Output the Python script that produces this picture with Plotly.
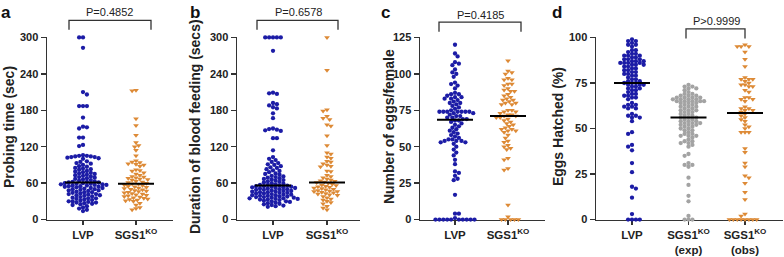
import numpy as np
import plotly.graph_objects as go

W, H = 784, 257

# ---------------- data ----------------
a_lvp = [300, 300, 283, 210, 206, 187, 187, 187, 168, 153, 152, 150, 135, 135, 123, 121,
         106, 105, 105, 104, 104, 103, 103, 102, 101, 100,
         96, 95, 93, 92, 90, 88, 87, 85, 84, 83, 82, 80, 79, 78, 77, 76, 75, 74, 73, 72, 71, 70,
         69, 68, 67, 66, 65, 64, 63, 62, 62, 61, 61, 60, 60,
         59, 59, 58, 58, 57, 57, 56, 56, 55, 55, 54, 54, 53, 52, 52, 51, 50, 50, 49, 48, 48, 47,
         46, 45, 45, 44, 43, 42, 42, 41, 40, 40, 39, 38, 37, 36, 35, 35, 34, 33, 32, 31, 30, 30,
         29, 28, 28, 27, 26, 25, 24, 22, 20, 18, 16, 14]
a_sgs = [213, 212, 166, 155, 139, 127, 122, 120, 114, 105, 97, 95, 94, 92, 91, 90, 88, 82, 81, 80,
         77, 75, 73, 71, 70, 69, 68, 67, 66, 65, 63, 62, 61, 60, 59, 58, 57, 56, 55, 54,
         53, 52, 51, 50, 49, 48, 47, 46, 45, 44, 43, 42, 41, 40, 39, 38, 37, 36, 35, 34, 33, 32,
         31, 30, 27, 24, 20, 18, 16]
b_lvp = [300, 300, 300, 300, 300, 278, 209, 208, 207, 192, 190, 188, 185, 183, 175, 167,
         150, 149, 148, 147, 146, 134, 134, 114, 103, 100, 98,
         95, 93, 91, 90, 88, 86, 85, 83, 81, 80, 78, 76, 75, 74, 72, 71, 70, 69, 68, 67, 66, 65,
         64, 63, 62, 61, 60, 59, 58, 57, 57, 56,
         56, 55, 55, 54, 54, 53, 53, 52, 52, 51, 51, 50, 50, 49, 49, 48, 47, 47, 46, 46, 45, 45,
         44, 44, 43, 43, 42, 41, 41, 40, 40, 39, 39, 38, 38, 37, 37, 36, 36, 35, 35, 34, 34, 33,
         33, 32, 31, 30, 30, 29, 28, 27, 26, 25, 24, 23, 22, 21]
b_sgs = [300, 246, 181, 179, 170, 167, 165, 156, 154, 138, 122, 110, 108, 103, 101, 96, 95, 92, 90, 88,
         87, 80, 79, 73, 71, 69, 67, 65, 64, 63, 62, 61, 60, 58, 57, 56, 55, 54, 53, 52,
         51, 50, 49, 48, 47, 46, 46, 45, 44, 43, 42, 41, 40, 38, 36, 34, 32, 30, 28, 26, 22, 19, 16]
c_lvp = [120, 114, 112, 108, 107, 106, 103, 101, 100, 98, 94, 93, 92, 90, 87, 86, 86, 85, 84, 84,
         83, 83, 82, 81, 80, 80, 79, 78, 77, 76, 75, 74, 74, 74, 74, 74, 74, 74,
         73, 73, 72, 71, 71, 70, 70, 69, 69, 68, 68, 67, 66, 65, 64, 63, 62, 61, 60, 59,
         58, 57, 56, 55, 55, 54, 54, 54, 53, 53, 52, 50, 48, 46, 44, 41, 38, 33, 32, 30,
         28, 27, 17, 4, 4, 1, 0, 0, 0, 0, 0, 0, 0, 0, 0, 0]
c_sgs = [109, 102, 101, 100, 97, 96, 96, 93, 93, 92, 90, 89, 88, 88, 86, 85, 84, 83, 82, 82,
         81, 80, 80, 79, 79, 75, 75, 74, 74, 73, 72, 72, 71, 71, 70, 70, 69, 68, 67, 66,
         65, 64, 63, 62, 62, 61, 61, 60, 58, 56, 54, 53, 51, 50, 49, 48, 42, 41, 35, 34,
         10, 2, 0, 0, 0, 0, 0]
d_lvp = [99, 98, 98, 97, 96, 96, 95, 93, 93, 92, 91, 91, 90, 90, 90, 89, 89, 88, 88, 88,
         87, 87, 87, 86, 86, 86, 86, 85, 85, 85, 84, 84, 83, 83, 82, 82, 81, 81, 80, 80,
         79, 79, 78, 77, 77, 76, 76, 75, 75, 75, 74, 74, 74, 73, 73, 72, 72, 71, 71, 70,
         69, 69, 68, 68, 67, 67, 66, 64, 63, 63, 62, 62, 61, 61, 58, 57, 57, 56, 56, 54,
         48, 47, 41, 40, 38, 31, 26, 18, 17, 12, 3, 0, 0, 0, 0]
d_exp = [74, 73, 73, 72, 72, 71, 70, 69, 69, 68, 68, 68, 67, 67, 67, 67, 66, 66, 66, 66,
         65, 65, 65, 65, 65, 64, 64, 64, 63, 63, 62, 62, 62, 61, 61, 60, 60, 60, 59, 59,
         58, 58, 57, 57, 56, 56, 56, 55, 55, 54, 54, 54, 53, 53, 53, 52, 52, 52, 51, 51,
         50, 50, 49, 49, 48, 47, 47, 46, 46, 46, 45, 44, 43, 43, 42, 42, 41, 40, 36, 35,
         31, 30, 30, 29, 23, 19, 13, 10, 2, 0, 0, 0]
d_obs = [96, 95, 95, 95, 92, 88, 84, 78, 77, 77, 77, 76, 75, 74, 74, 73, 73, 71, 70, 67,
         67, 66, 66, 65, 62, 61, 61, 60, 60, 59, 58, 57, 56, 55, 54, 52, 51, 50, 48, 48,
         48, 39, 37, 31, 29, 24, 23, 20, 15, 11, 3, 2, 0, 0, 0, 0, 0, 0, 0, 0]

cat_ab = ["LVP", "SGS1<sup>KO</sup>"]
cat_d = ["LVP", "SGS1<sup>KO</sup><br>(exp)", "SGS1<sup>KO</sup><br>(obs)"]
ytitles = ["Probing time (sec)", "Duration of blood feeding (secs)",
           "Number of eggs/female", "Eggs Hatched (%)"]
pvals = ["P=0.4852", "P=0.6578", "P=0.4185", "P>0.9999"]
letters = ["a", "b", "c", "d"]
yticks = [[0, 60, 120, 180, 240, 300], [0, 60, 120, 180, 240, 300],
          [0, 25, 50, 75, 100, 125], [0, 25, 50, 75, 100]]

BLUE, ORANGE, GREY = "#1c1ca6", "#dd8a36", "#a3a3a3"
FONT = "Arial, Liberation Sans, sans-serif"

# ---------------- layout geometry (pixels) ----------------
Y_TOP, Y_BOT = 33, 224
panels = [
    dict(x0=47, x1=173, cats=[83, 136], groups=[(a_lvp, BLUE, "circle"), (a_sgs, ORANGE, "triangle-down")],
         labels=cat_ab, title_x=9, letter_x=0, br=(69, 151, 15, 25), p=(110, 6)),
    dict(x0=237, x1=360, cats=[273, 327], groups=[(b_lvp, BLUE, "circle"), (b_sgs, ORANGE, "triangle-down")],
         labels=cat_ab, title_x=195, letter_x=189, br=(257, 338, 15, 25), p=(298, 6)),
    dict(x0=420, x1=545, cats=[455, 508], groups=[(c_lvp, BLUE, "circle"), (c_sgs, ORANGE, "triangle-down")],
         labels=cat_ab, title_x=389, letter_x=380, br=(439, 521, 17, 27), p=(480, 9)),
    dict(x0=596, x1=783, cats=[632, 688.5, 745],
         groups=[(d_lvp, BLUE, "circle"), (d_exp, GREY, "circle"), (d_obs, ORANGE, "triangle-down")],
         labels=cat_d, title_x=558, letter_x=551, br=(686, 745, 24, 34), p=(716, 16)),
]


def swarm(vals, ppu, D=3.7, step=1.3):
    vals = np.asarray(vals, float)
    ys = vals * ppu
    order = np.argsort(-vals, kind="stable")
    placed = []
    offs = np.zeros(len(vals))
    for n, i in enumerate(order):
        y = ys[i]
        cands = [0.0]
        sgn = 1 if n % 2 == 0 else -1
        for k in range(1, 80):
            cands += [sgn * k * step, -sgn * k * step]
        for cx in cands:
            ok = True
            for (px, py) in placed:
                if abs(py - y) < D and (px - cx) ** 2 + (py - y) ** 2 < D * D:
                    ok = False
                    break
            if ok:
                offs[i] = cx
                placed.append((cx, y))
                break
    return offs


fig = go.Figure()
annotations, shapes = [], []
ydom = [1 - Y_BOT / H, 1 - Y_TOP / H]

for k, P in enumerate(panels):
    sfx = "" if k == 0 else str(k + 1)
    xa, ya = "x" + sfx, "y" + sfx
    unit = (P["cats"][-1] - P["cats"][0]) / (len(P["cats"]) - 1)
    xr = [1 - (P["cats"][0] - P["x0"]) / unit, 1 + (P["x1"] - P["cats"][0]) / unit]
    ymax = yticks[k][-1]
    ppu = (Y_BOT - Y_TOP) / ymax
    pos = [1 + (c - P["cats"][0]) / unit for c in P["cats"]]
    for j, (vals, col, sym) in enumerate(P["groups"]):
        offs = swarm(vals, ppu)
        fig.add_trace(go.Scatter(
            x=pos[j] + offs / unit, y=vals, mode="markers", xaxis=xa, yaxis=ya,
            cliponaxis=False, hoverinfo="skip",
            marker=dict(color=col, symbol=sym, size=4.3 if sym == "circle" else 5,
                        line=dict(width=0))))
        med = float(np.median(vals))
        hw = 18 / unit
        fig.add_trace(go.Scatter(
            x=[pos[j] - hw, pos[j] + hw], y=[med, med], mode="lines", xaxis=xa, yaxis=ya,
            cliponaxis=False, hoverinfo="skip", line=dict(color="black", width=2)))

    common = dict(showgrid=False, zeroline=False, showline=True, linecolor="#333",
                  linewidth=1.5, ticks="outside", tickcolor="#333", tickwidth=1.5,
                  fixedrange=True)
    fig.update_layout({
        ("xaxis" + sfx): dict(common, domain=[P["x0"] / W, P["x1"] / W], range=xr, anchor=ya,
                              tickvals=pos, ticktext=P["labels"], ticklen=4,
                              tickfont=dict(family=FONT, size=11.5, color="#222", weight="bold"),
                              layer="below traces"),
        ("yaxis" + sfx): dict(common, domain=ydom, range=[0, ymax], anchor=xa,
                              tickvals=yticks[k], ticklen=5,
                              tickfont=dict(family=FONT, size=11, color="#222", weight="bold")),
    })
    # y title
    annotations.append(dict(text="<b>%s</b>" % ytitles[k], x=P["title_x"] / W, y=1 - 127 / H,
                            xref="paper", yref="paper", textangle=-90, showarrow=False,
                            font=dict(family=FONT, size=14, color="#222"),
                            xanchor="center", yanchor="middle"))
    # panel letter
    annotations.append(dict(text="<b>%s</b>" % letters[k], x=P["letter_x"] / W, y=1 - 7 / H,
                            xref="paper", yref="paper", showarrow=False,
                            font=dict(family=FONT, size=17, color="#111"),
                            xanchor="left", yanchor="middle", borderpad=0))
    # p value + bracket
    bx0, bx1, byt, byb = P["br"]
    annotations.append(dict(text=pvals[k], x=P["p"][0] / W, y=1 - P["p"][1] / H,
                            xref="paper", yref="paper", showarrow=False,
                            font=dict(family=FONT, size=11, color="#222"),
                            xanchor="center", yanchor="middle"))
    shapes.append(dict(type="path", xref="paper", yref="paper",
                       path="M %f,%f L %f,%f L %f,%f L %f,%f" % (
                           bx0 / W, 1 - byb / H, bx0 / W, 1 - byt / H,
                           bx1 / W, 1 - byt / H, bx1 / W, 1 - byb / H),
                       line=dict(color="#333", width=1.3)))

fig.update_layout(width=W, height=H, margin=dict(l=0, r=0, t=0, b=0),
                  plot_bgcolor="white", paper_bgcolor="white", showlegend=False,
                  annotations=annotations, shapes=shapes)
fig.write_html("out.html", config={"displayModeBar": False, "staticPlot": True},
               post_script="document.body.style.margin='0';document.body.style.overflow='hidden';")
